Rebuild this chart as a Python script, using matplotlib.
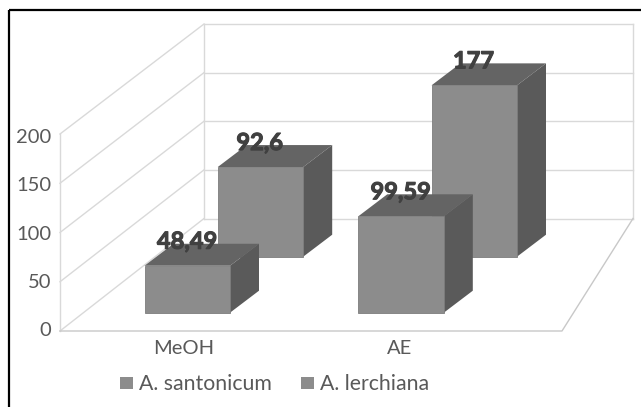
import matplotlib

matplotlib.use("Agg")
import matplotlib.patheffects as pe
import matplotlib.pyplot as plt
from matplotlib.patches import Polygon, Rectangle

categories = ["MeOH", "AE"]
series_names = ["A. santonicum", "A. lerchiana"]
santonicum = [48.49, 99.59]
lerchiana = [92.6, 177]
value_labels_s = ["48,49", "99,59"]
value_labels_l = ["92,6", "177"]
y_ticks = [0, 50, 100, 150, 200]

plt.rcParams["font.family"] = ["Lato", "DejaVu Sans"]

W, H = 641, 407
GRID = "#d9d9d9"
TICK_TEXT = "#595959"
LABEL_TEXT = "#404040"
FRONT = "#8c8c8c"
TOP = "#646464"
SIDE = "#5a5a5a"

# pseudo 3d frame, in pixels of the picture
FRONT_LEFT = 60
FRONT_RIGHT = 562
BACK_LEFT = 204
BACK_RIGHT = 633
FRONT_ZERO = 331
BACK_ZERO = 218.5
FRONT_SCALE = 197 / 200
BACK_SCALE = 194.5 / 200
TICK_ZERO = 330.5
TICK_SCALE = 0.965

# bars
BAR_W = 85.5
DEPTH_X = 29
DEPTH_Y = 22
BAR_SCALE = 0.968
ROW_BASE = {"s": 312.7, "l": 256.7}
ROW_X = {"s": [144.5, 358.3], "l": [217.7, 431.5]}

fig = plt.figure(figsize=(W / 100, H / 100), dpi=100)
ax = fig.add_axes([0, 0, 1, 1])
ax.set_xlim(0, W)
ax.set_ylim(H, 0)
ax.axis("off")

# outer frame, only left and top are in the crop
ax.plot([9, 9], [H, 10], color="black", lw=1.6, solid_capstyle="butt", zorder=1)
ax.plot([9, W], [10, 10], color="black", lw=1.6, solid_capstyle="butt", zorder=1)

# walls and gridlines
for t in y_ticks:
    yf = FRONT_ZERO - t * FRONT_SCALE
    yb = BACK_ZERO - t * BACK_SCALE
    ax.plot([FRONT_LEFT, BACK_LEFT], [yf, yb], color=GRID, lw=1, zorder=2)
    ax.plot([BACK_LEFT, BACK_RIGHT], [yb, yb], color=GRID, lw=1, zorder=2)
    ax.text(51, TICK_ZERO - t * TICK_SCALE, str(t), color=TICK_TEXT, fontsize=14.5,
            ha="right", va="center", zorder=6)

top_f = FRONT_ZERO - 200 * FRONT_SCALE
top_b = BACK_ZERO - 200 * BACK_SCALE
ax.plot([FRONT_LEFT, FRONT_LEFT], [FRONT_ZERO, top_f], color=GRID, lw=1, zorder=2)
ax.plot([BACK_LEFT, BACK_LEFT], [BACK_ZERO, top_b], color=GRID, lw=1, zorder=2)
ax.plot([BACK_RIGHT, BACK_RIGHT], [BACK_ZERO, top_b], color=GRID, lw=1, zorder=2)

# floor
ax.plot([FRONT_LEFT, FRONT_RIGHT, BACK_RIGHT], [FRONT_ZERO, FRONT_ZERO, BACK_ZERO],
        color="#c8c8c8", lw=1, zorder=2)


def draw_bar(x, base, value, zorder):
    top = base - value * BAR_SCALE
    xr = x + BAR_W
    ax.add_patch(Polygon([(x, top), (xr, top), (xr + DEPTH_X, top - DEPTH_Y),
                          (x + DEPTH_X, top - DEPTH_Y)], color=TOP, lw=0, zorder=zorder))
    ax.add_patch(Polygon([(xr, top), (xr + DEPTH_X, top - DEPTH_Y),
                          (xr + DEPTH_X, base - DEPTH_Y), (xr, base)],
                         color=SIDE, lw=0, zorder=zorder))
    ax.add_patch(Rectangle((x, top), BAR_W, base - top, facecolor=FRONT,
                           edgecolor="#7d7d7d", lw=0.6, zorder=zorder))
    return top


def draw_value(x, top, label):
    # the installed Lato has no heavy cut, thicken it with a stroke
    ax.text(x, top - 24.5, label, color=LABEL_TEXT, fontsize=17, fontweight="bold",
            ha="center", va="center", zorder=7,
            path_effects=[pe.withStroke(linewidth=0.8, foreground=LABEL_TEXT)])


# back row first, the front row hides it
for i in range(len(categories)):
    top = draw_bar(ROW_X["l"][i], ROW_BASE["l"], lerchiana[i], 3 + i * 0.1)
    draw_value(ROW_X["l"][i] + 42, top, value_labels_l[i])
for i in range(len(categories)):
    top = draw_bar(ROW_X["s"][i], ROW_BASE["s"], santonicum[i], 4 + i * 0.1)
    draw_value(ROW_X["s"][i] + 42.5, top, value_labels_s[i])

# category labels
for name, x in zip(categories, [184, 400]):
    ax.text(x, 349, name, color=TICK_TEXT, fontsize=14.5, ha="center", va="center")

# legend
for name, sq_x, txt_x in zip(series_names, [120, 301], [139, 320]):
    ax.add_patch(Rectangle((sq_x, 377), 13, 12, facecolor=FRONT, lw=0))
    ax.text(txt_x, 384.5, name, color=TICK_TEXT, fontsize=15.3, ha="left", va="center")

fig.savefig("out.png", dpi=100)
